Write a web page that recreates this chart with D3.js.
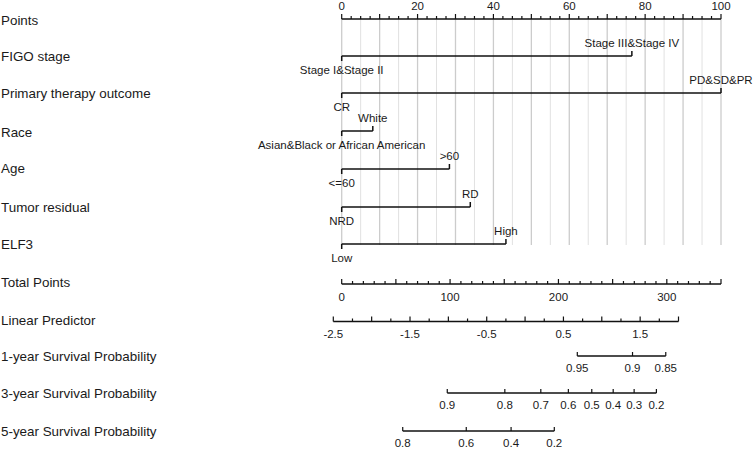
<!DOCTYPE html>
<html><head><meta charset="utf-8">
<script src="https://cdn.jsdelivr.net/npm/d3@7"></script>
<style>
html,body{margin:0;padding:0;background:#fff;}
text{font-family:"Liberation Sans",Arial,sans-serif;fill:#1a1a1a;}
</style></head>
<body><svg id="c" width="753" height="451"></svg>
<script>
// ---------- data ----------
const rowLabels = ["Points","FIGO stage","Primary therapy outcome","Race","Age","Tumor residual","ELF3",
  "Total Points","Linear Predictor","1-year Survival Probability","3-year Survival Probability","5-year Survival Probability"];
const figoLevels = ["Stage I&Stage II","Stage III&Stage IV"];
const figoPoints = [0, 76.5];
const therapyLevels = ["CR","PD&SD&PR"];
const therapyPoints = [0, 100];
const raceLevels = ["Asian&Black or African American","White"];
const racePoints = [0, 8.2];
const ageLevels = ["<=60",">60"];
const agePoints = [0, 28.4];
const residualLevels = ["NRD","RD"];
const residualPoints = [0, 33.9];
const elf3Levels = ["Low","High"];
const elf3Points = [0, 43.3];
const pointsTickLabels = [0,20,40,60,80,100];
const totalTickLabels = [0,100,200,300];
const lpTickLabels = [-2.5,-1.5,-0.5,0.5,1.5];
const surv1Ticks = [0.95,0.9,0.85];
const surv3Ticks = [0.9,0.8,0.7,0.6,0.5,0.4,0.3,0.2];
const surv5Ticks = [0.8,0.6,0.4,0.2];
// linear-predictor offsets of each survival axis
const survOffsets = [3.651, 1.236, -0.095];

// ---------- layout ----------
const svg = d3.select("#c");
const rowY = [19, 56, 93, 131, 169, 207, 244, 284, 321.5, 356, 393, 431];
const labelY = [20, 56, 93, 132, 168, 207, 244, 282, 320, 356, 393, 431];
const xPts = d3.scaleLinear().domain([0,100]).range([341.7,721]);
const xTot = d3.scaleLinear().domain([0,350]).range([341.7,721]);
const xLP = d3.scaleLinear().domain([-2.5,2.0]).range([333.3,678.5]);
const cloglog = p => Math.log(-Math.log(p));
const FS = "11.5px";

// row labels
svg.selectAll("text.row").data(rowLabels).join("text")
  .attr("class","row").attr("x",1).attr("y",(d,i)=>labelY[i]+4.7)
  .style("font-size","13.4px").text(d=>d);

// gridlines every 5 points
const grid = d3.range(0,101,5);
svg.append("g").selectAll("line").data(grid).join("line")
  .attr("x1",d=>xPts(d)).attr("x2",d=>xPts(d))
  .attr("y1",rowY[0]).attr("y2",rowY[6]+1)
  .attr("stroke",d=>d%10===0?"#cccccc":"#e1e1e1").attr("stroke-width",d=>d%10===0?1.3:1);

// generic axis with up ticks
function drawAxis(scale, y, domain, minorStep, majorStep){
  const g = svg.append("g");
  g.append("line").attr("x1",scale(domain[0])).attr("x2",scale(domain[1]))
    .attr("y1",y).attr("y2",y).attr("stroke","#111").attr("stroke-width",1.5);
  const n = Math.round((domain[1]-domain[0])/minorStep);
  const ticks = d3.range(n+1).map(i=>domain[0]+i*minorStep);
  g.selectAll("line.t").data(ticks).join("line").attr("class","t")
    .attr("x1",d=>scale(d)).attr("x2",d=>scale(d)).attr("y1",y)
    .attr("y2",d=>{const r=(d-domain[0])/majorStep; return Math.abs(r-Math.round(r))<1e-6? y-5 : y-3;})
    .attr("stroke","#111").attr("stroke-width",1.2);
  return g;
}

// Points axis
drawAxis(xPts, rowY[0], [0,100], 2.5, 10);
svg.append("g").selectAll("text").data(pointsTickLabels).join("text")
  .attr("x",d=>xPts(d)).attr("y",10).attr("text-anchor","middle")
  .style("font-size",FS).text(d=>d);

// factor rows
const factors = [
  [figoLevels, figoPoints],[therapyLevels, therapyPoints],[raceLevels, racePoints],
  [ageLevels, agePoints],[residualLevels, residualPoints],[elf3Levels, elf3Points]];
factors.forEach((f,k)=>{
  const y = rowY[k+1];
  const [levels, pts] = f;
  const g = svg.append("g");
  g.append("line").attr("x1",xPts(d3.min(pts))).attr("x2",xPts(d3.max(pts)))
    .attr("y1",y).attr("y2",y).attr("stroke","#111").attr("stroke-width",1.5);
  levels.forEach((lv,i)=>{
    const up = i%2===1;
    g.append("line").attr("x1",xPts(pts[i])).attr("x2",xPts(pts[i]))
      .attr("y1",y).attr("y2",up? y-5 : y+5).attr("stroke","#111").attr("stroke-width",1.5);
    g.append("text").attr("x",xPts(pts[i])).attr("y",up? y-13+4 : y+14+4)
      .attr("text-anchor","middle").style("font-size",FS).text(lv);
  });
});

// Total points
drawAxis(xTot, rowY[7], [0,350], 10, 50);
svg.append("g").selectAll("text").data(totalTickLabels).join("text")
  .attr("x",d=>xTot(d)).attr("y",rowY[7]+17).attr("text-anchor","middle")
  .style("font-size",FS).text(d=>d);

// Linear predictor
drawAxis(xLP, rowY[8], [-2.5,2.0], 0.25, 0.5);
svg.append("g").selectAll("text").data(lpTickLabels).join("text")
  .attr("x",d=>xLP(d)).attr("y",rowY[8]+16).attr("text-anchor","middle")
  .style("font-size",FS).text(d=>d);

// survival axes
[surv1Ticks, surv3Ticks, surv5Ticks].forEach((ticks,k)=>{
  const y = rowY[9+k];
  const pos = p => xLP(survOffsets[k] + cloglog(p));
  const g = svg.append("g");
  g.append("line").attr("x1",pos(d3.max(ticks))).attr("x2",pos(d3.min(ticks)))
    .attr("y1",y).attr("y2",y).attr("stroke","#111").attr("stroke-width",1.5);
  g.selectAll("line.t").data(ticks).join("line").attr("class","t")
    .attr("x1",pos).attr("x2",pos).attr("y1",y).attr("y2",y-4)
    .attr("stroke","#111").attr("stroke-width",1.2);
  g.selectAll("text").data(ticks).join("text")
    .attr("x",pos).attr("y",y+16).attr("text-anchor","middle")
    .style("font-size",FS).text(d=>d);
});
</script></body></html>
